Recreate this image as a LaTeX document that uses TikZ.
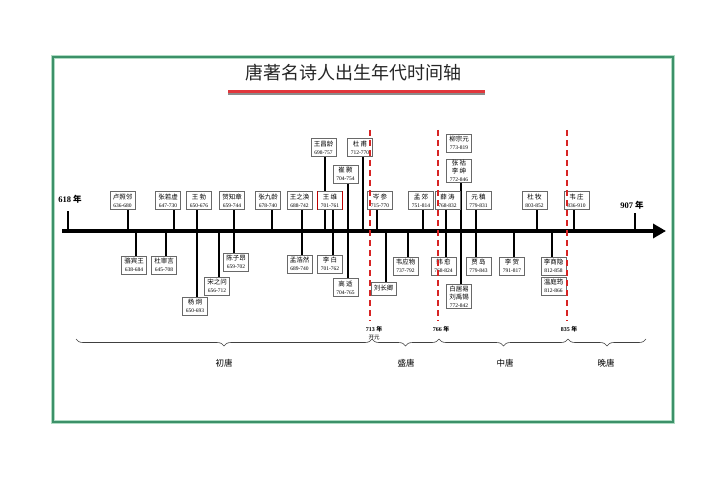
\documentclass[tikz,border=0pt]{standalone}
\usepackage{fontspec}
\setmainfont{Liberation Serif}
\newfontfamily\cjk{Noto Sans CJK SC}
\usetikzlibrary{arrows.meta,decorations.pathreplacing,backgrounds,shadows}
\definecolor{framegreen}{RGB}{60,145,105}
\definecolor{lightgreen}{RGB}{175,220,195}
\definecolor{dashred}{RGB}{215,35,35}
\definecolor{boxgray}{RGB}{105,105,105}
\definecolor{titlered}{RGB}{225,55,60}
\newcommand\yr[1]{{\rmfamily\fontsize{5.5}{6}\selectfont #1}}
\tikzset{
  poet/.style={draw=boxgray, fill=white, line width=0.6pt, minimum width=25pt,
    minimum height=18pt, inner sep=1pt, align=center,
    font=\cjk\fontsize{6.5}{8}\selectfont,
    drop shadow={shadow xshift=0.7pt, shadow yshift=-0.7pt, fill=black!35}},
  stem/.style={line width=1.5pt, black},
  eraline/.style={dashred, line width=1.8pt, dash pattern=on 6pt off 4pt},
  yearlbl/.style={font=\bfseries\fontsize{6}{7}\selectfont, inner sep=0pt},
  brc/.style={decorate, decoration={brace, amplitude=7pt, mirror}, line width=0.6pt, black!75},
  eralbl/.style={font=\cjk\fontsize{8.5}{9}\selectfont, inner sep=0pt}
}
\begin{document}
\begin{tikzpicture}[x=1pt,y=-1pt]
\useasboundingbox (0,0) rectangle (707,500);
% title
\node[font=\cjk\fontsize{18}{20}\selectfont, text=black!85, inner sep=0pt] (title) at (353,73) {唐著名诗人出生年代时间轴};
\coordinate (ul0) at (228,91.5);
\coordinate (ul1) at (485,91.5);
\coordinate (ug0) at (228,94);
\coordinate (ug1) at (485,94);
\draw[line width=1.5pt, black!45] (ug0) -- (ug1);
\draw[line width=2.6pt, titlered] (ul0) -- (ul1);

% upper row boxes
\node[poet] (lu)  at (122.5,200.5) {卢照邻\\\yr{636-680}};
\node[poet] (zry) at (168,200.5)   {张若虚\\\yr{647-730}};
\node[poet] (wb)  at (199,200.5)   {王 勃\\\yr{650-676}};
\node[poet] (hzz) at (232,200.5)   {贺知章\\\yr{659-744}};
\node[poet] (zjl) at (268,200.5)   {张九龄\\\yr{678-740}};
\node[poet] (wzh) at (299.5,200.5) {王之涣\\\yr{688-742}};
\node[poet] (ww)  at (330,200.5)   {王 维\\\yr{701-761}};
\node[poet] (cs)  at (380,200.5)   {岑 参\\\yr{715-770}};
\node[poet] (mj)  at (421,200.5)   {孟 郊\\\yr{751-814}};
\node[poet] (xt)  at (447.5,200.5) {薛 涛\\\yr{768-832}};
\node[poet] (yz)  at (478.5,200.5) {元 稹\\\yr{779-831}};
\node[poet] (dm)  at (534.5,200.5) {杜 牧\\\yr{803-852}};
\node[poet] (wz)  at (576.5,200.5) {韦 庄\\\yr{836-910}};
% higher boxes
\node[poet] (wcl) at (323.5,147.5) {王昌龄\\\yr{698-757}};
\node[poet] (df)  at (360,147.5)   {杜 甫\\\yr{712-770}};
\node[poet] (ch)  at (345.5,174)   {崔 颢\\\yr{704-754}};
\node[poet] (lzy) at (459,143)     {柳宗元\\\yr{773-819}};
\node[poet] (zhls) at (459,171)    {张 祜\\李 绅\\\yr{772-846}};
% lower row boxes
\node[poet] (lbw) at (134,265)     {骆宾王\\\yr{638-684}};
\node[poet] (dsy) at (164,265)     {杜审言\\\yr{645-708}};
\node[poet] (cza) at (236,262)     {陈子昂\\\yr{659-702}};
\node[poet] (syw) at (217,286)     {宋之问\\\yr{656-712}};
\node[poet] (yj)  at (195,306)     {杨 炯\\\yr{650-693}};
\node[poet] (mhr) at (299.5,264)   {孟浩然\\\yr{689-740}};
\node[poet] (lb)  at (330,264)     {李 白\\\yr{701-762}};
\node[poet] (gs)  at (345.5,287.5) {高 适\\\yr{704-765}};
\node[poet] (wyw) at (405.5,266)   {韦应物\\\yr{737-792}};
\node[poet, minimum height=13pt] (lcq) at (383.5,288.5) {刘长卿};
\node[poet] (hy)  at (443.5,266)   {韩 愈\\\yr{768-824}};
\node[poet] (bjy) at (459,296.5)   {白居易\\刘禹锡\\\yr{772-842}};
\node[poet] (jd)  at (478.5,266)   {贾 岛\\\yr{779-843}};
\node[poet] (lh)  at (512,266)     {李 贺\\\yr{791-817}};
\node[poet] (lsy) at (553.5,266)   {李商隐\\\yr{812-858}};
\node[poet] (wty) at (553.5,286)   {温庭筠\\\yr{812-866}};
\draw[red!75!black, line width=0.8pt] (ww.north west) -- (ww.south west) (ww.north east) -- (ww.south east);

% axis
\coordinate (axL) at (62,231);
\coordinate (axR) at (666,231);
\draw[line width=4.5pt, -{Triangle[length=13pt,width=14pt]}] (axL) -- (axR);
\coordinate (t618) at (68,211);
\coordinate (t907) at (635,213);
\draw[stem, line width=2pt] (t618) -- (t618 |- axL);
\draw[stem, line width=2pt] (t907) -- (t907 |- axL);
\node[font=\bfseries\fontsize{8.5}{9}\selectfont, inner sep=0pt] (l618) at (70,199) {618 {\cjk 年}};
\node[font=\bfseries\fontsize{8.5}{9}\selectfont, inner sep=0pt] (l907) at (632,205.5) {907 {\cjk 年}};

% frame and stems behind boxes
\begin{scope}[on background layer]
\draw[lightgreen, line width=4pt] (53,57) rectangle (673,422);
\draw[framegreen, line width=1.6pt] (53,57) rectangle (673,422);
% upper stems to axis
\foreach \n/\s in {lu/5.5, zry/6, zjl/4, cs/-3, mj/2, dm/2.5, wz/-2.5}
  \draw[stem] ([xshift=\s pt]\n.south) -- ([xshift=\s pt]\n.south |- axL);
\draw[stem] ([xshift=1.5pt]wcl.south) -- ([xshift=1.5pt]wcl.south |- axL);
\draw[stem] ([xshift=3pt]df.south) -- ([xshift=3pt]df.south |- axL);
% through-axis connectors
\draw[stem] ([xshift=-2pt]wb.south) -- ([xshift=-2pt]wb.south |- yj.north);
\draw[stem] ([xshift=2pt]hzz.south) -- ([xshift=2pt]hzz.south |- cza.north);
\draw[stem] ([xshift=2.5pt]wzh.south) -- ([xshift=2.5pt]wzh.south |- mhr.north);
\draw[stem] ([xshift=3pt]ww.south) -- ([xshift=3pt]ww.south |- lb.north);
\draw[stem] ([xshift=2.5pt]ch.south) -- ([xshift=2.5pt]ch.south |- gs.north);
\draw[stem] ([xshift=-1.5pt]xt.south) -- ([xshift=-1.5pt]xt.south |- hy.north);
\draw[stem] ([xshift=2pt]zhls.south) -- ([xshift=2pt]zhls.south |- bjy.north);
\draw[stem] ([xshift=-2.5pt]yz.south) -- ([xshift=-2.5pt]yz.south |- jd.north);
% lower stems from axis
\foreach \n/\s in {lbw/2, dsy/2, syw/2, wyw/2.5, lcq/2.5, lh/2, lsy/-1.5}
  \draw[stem] ([xshift=\s pt]\n.north |- axL) -- ([xshift=\s pt]\n.north);
\end{scope}

% era dashed lines
\coordinate (e1t) at (370,130); \coordinate (e1b) at (370,321);
\coordinate (e2t) at (438,130); \coordinate (e2b) at (438,321);
\coordinate (e3t) at (567,130); \coordinate (e3b) at (567,321);
\draw[eraline] (e1t) -- (e1b);
\draw[eraline] (e2t) -- (e2b);
\draw[eraline] (e3t) -- (e3b);
\node[yearlbl] (y713) at (374,329) {713 {\cjk 年}};
\node[font=\cjk\fontsize{5.5}{6}\selectfont, inner sep=0pt] (ky) at (374,337.5) {开元};
\node[yearlbl] (y766) at (441,329) {766 {\cjk 年}};
\node[yearlbl] (y835) at (569,329) {835 {\cjk 年}};

% braces
\coordinate (b0) at (76,339);
\coordinate (b1) at (372,339);
\coordinate (b2) at (439,339);
\coordinate (b3) at (568,339);
\coordinate (b4) at (646,339);
\draw[brc] (b0) -- (b1);
\draw[brc] (b1) -- (b2);
\draw[brc] (b2) -- (b3);
\draw[brc] (b3) -- (b4);
\node[eralbl] (e1) at (224,363) {初唐};
\node[eralbl] (e2) at (406,363) {盛唐};
\node[eralbl] (e3) at (505,363) {中唐};
\node[eralbl] (e4) at (606,363) {晚唐};
\end{tikzpicture}
\end{document}
